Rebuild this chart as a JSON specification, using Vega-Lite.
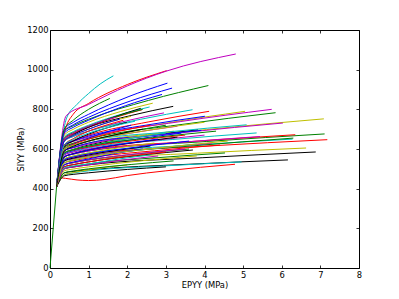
{
"$schema":"https://vega.github.io/schema/vega-lite/v6.json",
"width":309,"height":238,"autosize":"none",
"padding":{"left":50,"top":30,"right":40,"bottom":31},
"background":"white",
"config":{"view":{"stroke":"#000","strokeWidth":1},
"axis":{"domain":false,"grid":false,"tickSize":-3,"tickColor":"#000","tickWidth":0.8,"labelFont":"DejaVu Sans","labelFontSize":8.33,"labelColor":"#000","labelPadding":5,"labelFlush":false,"labelOverlap":false,"titleFont":"DejaVu Sans","titleFontSize":8.33,"titleFontWeight":"normal","titleColor":"#000"},
"axisX":{"titlePadding":2},"axisY":{"titlePadding":1}},
"datasets":{
"elastic":[{"x":0,"y":0},{"x":0.17,"y":410}],
"curves":[
{"s":0,"x":0.17,"y":410},{"s":0,"x":0.37,"y":700},{"s":0,"x":0.6,"y":734},{"s":0,"x":1,"y":775},{"s":0,"x":2.02,"y":863},{"s":0,"x":3.04,"y":932},
{"s":1,"x":0.17,"y":410},{"s":1,"x":0.37,"y":690},{"s":1,"x":0.6,"y":717},{"s":1,"x":1,"y":750},{"s":1,"x":2.55,"y":845},{"s":1,"x":4.1,"y":920},
{"s":2,"x":0.17,"y":410},{"s":2,"x":0.37,"y":680},{"s":2,"x":0.6,"y":775},{"s":2,"x":1,"y":830},{"s":2,"x":2,"y":925},{"s":2,"x":3.02,"y":995},
{"s":3,"x":0.17,"y":410},{"s":3,"x":0.43,"y":756},{"s":3,"x":0.7,"y":825},{"s":3,"x":1,"y":880},{"s":3,"x":1.3,"y":928},{"s":3,"x":1.64,"y":969},
{"s":4,"x":0.17,"y":410},{"s":4,"x":0.42,"y":768},{"s":4,"x":1,"y":825},{"s":4,"x":2,"y":918},{"s":4,"x":3,"y":992},{"s":4,"x":4.81,"y":1079},
{"s":5,"x":0.17,"y":410},{"s":5,"x":0.37,"y":670},{"s":5,"x":0.6,"y":699},{"s":5,"x":1,"y":735},{"s":5,"x":1.83,"y":789},{"s":5,"x":2.66,"y":831},
{"s":6,"x":0.17,"y":410},{"s":6,"x":0.37,"y":650},{"s":6,"x":0.6,"y":677},{"s":6,"x":1,"y":710},{"s":6,"x":2.1,"y":769},{"s":6,"x":3.19,"y":815},
{"s":7,"x":0.17,"y":410},{"s":7,"x":0.37,"y":690},{"s":7,"x":0.6,"y":722},{"s":7,"x":1,"y":760},{"s":7,"x":2.08,"y":842},{"s":7,"x":3.16,"y":907},
{"s":8,"x":0.17,"y":410},{"s":8,"x":0.37,"y":700},{"s":8,"x":0.6,"y":745},{"s":8,"x":1,"y":800},{"s":8,"x":1.28,"y":830},{"s":8,"x":1.55,"y":855},
{"s":9,"x":0.17,"y":410},{"s":9,"x":0.37,"y":650},{"s":9,"x":0.6,"y":677},{"s":9,"x":1,"y":710},{"s":9,"x":1.69,"y":759},{"s":9,"x":2.38,"y":798},
{"s":10,"x":0.17,"y":410},{"s":10,"x":0.37,"y":660},{"s":10,"x":0.6,"y":687},{"s":10,"x":1,"y":720},{"s":10,"x":1.79,"y":772},{"s":10,"x":2.58,"y":812},
{"s":11,"x":0.17,"y":410},{"s":11,"x":0.37,"y":640},{"s":11,"x":0.6,"y":663},{"s":11,"x":1,"y":690},{"s":11,"x":1.98,"y":742},{"s":11,"x":2.95,"y":782},
{"s":12,"x":0.17,"y":410},{"s":12,"x":0.37,"y":610},{"s":12,"x":0.6,"y":630},{"s":12,"x":1,"y":655},{"s":12,"x":3.03,"y":731},{"s":12,"x":5.05,"y":790},
{"s":13,"x":0.17,"y":410},{"s":13,"x":0.37,"y":640},{"s":13,"x":0.6,"y":671},{"s":13,"x":1,"y":710},{"s":13,"x":1.68,"y":763},{"s":13,"x":2.35,"y":805},
{"s":14,"x":0.17,"y":410},{"s":14,"x":0.37,"y":680},{"s":14,"x":0.6,"y":709},{"s":14,"x":1,"y":745},{"s":14,"x":1.95,"y":818},{"s":14,"x":2.9,"y":875},
{"s":15,"x":0.17,"y":410},{"s":15,"x":0.37,"y":610},{"s":15,"x":0.6,"y":628},{"s":15,"x":1,"y":650},{"s":15,"x":3.42,"y":724},{"s":15,"x":5.84,"y":783},
{"s":16,"x":0.17,"y":410},{"s":16,"x":0.37,"y":620},{"s":16,"x":0.6,"y":643},{"s":16,"x":1,"y":670},{"s":16,"x":2.56,"y":737},{"s":16,"x":4.12,"y":790},
{"s":17,"x":0.17,"y":410},{"s":17,"x":0.37,"y":640},{"s":17,"x":0.6,"y":663},{"s":17,"x":1,"y":690},{"s":17,"x":2.35,"y":750},{"s":17,"x":3.69,"y":798},
{"s":18,"x":0.17,"y":410},{"s":18,"x":0.37,"y":620},{"s":18,"x":0.6,"y":638},{"s":18,"x":1,"y":660},{"s":18,"x":3.37,"y":738},{"s":18,"x":5.74,"y":800},
{"s":19,"x":0.17,"y":410},{"s":19,"x":0.37,"y":590},{"s":19,"x":0.6,"y":608},{"s":19,"x":1,"y":630},{"s":19,"x":4.05,"y":698},{"s":19,"x":7.09,"y":752},
{"s":20,"x":0.17,"y":410},{"s":20,"x":0.37,"y":580},{"s":20,"x":0.6,"y":598},{"s":20,"x":1,"y":620},{"s":20,"x":2.42,"y":663},{"s":20,"x":3.83,"y":697},
{"s":21,"x":0.17,"y":410},{"s":21,"x":0.37,"y":620},{"s":21,"x":0.6,"y":640},{"s":21,"x":1,"y":665},{"s":21,"x":2.51,"y":721},{"s":21,"x":4.01,"y":765},
{"s":22,"x":0.17,"y":410},{"s":22,"x":0.37,"y":560},{"s":22,"x":0.6,"y":574},{"s":22,"x":1,"y":590},{"s":22,"x":4.06,"y":638},{"s":22,"x":7.11,"y":676},
{"s":23,"x":0.17,"y":410},{"s":23,"x":0.37,"y":560},{"s":23,"x":0.6,"y":576},{"s":23,"x":1,"y":595},{"s":23,"x":3.68,"y":638},{"s":23,"x":6.35,"y":672},
{"s":24,"x":0.17,"y":410},{"s":24,"x":0.37,"y":570},{"s":24,"x":0.6,"y":586},{"s":24,"x":1,"y":605},{"s":24,"x":3.18,"y":648},{"s":24,"x":5.35,"y":681},
{"s":25,"x":0.17,"y":410},{"s":25,"x":0.37,"y":590},{"s":25,"x":0.6,"y":606},{"s":25,"x":1,"y":625},{"s":25,"x":3.52,"y":684},{"s":25,"x":6.03,"y":731},
{"s":26,"x":0.17,"y":410},{"s":26,"x":0.37,"y":520},{"s":26,"x":0.6,"y":531},{"s":26,"x":1,"y":545},{"s":26,"x":3.82,"y":579},{"s":26,"x":6.63,"y":605},
{"s":27,"x":0.17,"y":410},{"s":27,"x":0.37,"y":500},{"s":27,"x":0.6,"y":509},{"s":27,"x":1,"y":520},{"s":27,"x":3.94,"y":556},{"s":27,"x":6.88,"y":585},
{"s":28,"x":0.17,"y":410},{"s":28,"x":0.37,"y":590},{"s":28,"x":0.6,"y":608},{"s":28,"x":1,"y":630},{"s":28,"x":2.46,"y":666},{"s":28,"x":3.92,"y":694},
{"s":29,"x":0.17,"y":410},{"s":29,"x":0.37,"y":500},{"s":29,"x":0.6,"y":511},{"s":29,"x":1,"y":525},{"s":29,"x":2.77,"y":556},{"s":29,"x":4.53,"y":580},
{"s":30,"x":0.17,"y":410},{"s":30,"x":0.37,"y":545},{"s":30,"x":0.6,"y":559},{"s":30,"x":1,"y":575},{"s":30,"x":4.09,"y":615},{"s":30,"x":7.18,"y":647},
{"s":31,"x":0.17,"y":410},{"s":31,"x":0.37,"y":550},{"s":31,"x":0.6,"y":564},{"s":31,"x":1,"y":580},{"s":31,"x":3.64,"y":619},{"s":31,"x":6.28,"y":650},
{"s":32,"x":0.17,"y":410},{"s":32,"x":0.37,"y":560},{"s":32,"x":0.6,"y":574},{"s":32,"x":1,"y":590},{"s":32,"x":3.22,"y":631},{"s":32,"x":5.44,"y":663},
{"s":33,"x":0.17,"y":410},{"s":33,"x":0.37,"y":640},{"s":33,"x":0.6,"y":668},{"s":33,"x":1,"y":700},{"s":33,"x":1.55,"y":736},{"s":33,"x":2.1,"y":765},
{"s":34,"x":0.17,"y":410},{"s":34,"x":0.37,"y":480},{"s":34,"x":0.6,"y":487},{"s":34,"x":1,"y":495},{"s":34,"x":3.58,"y":523},{"s":34,"x":6.16,"y":545},
{"s":35,"x":0.17,"y":410},{"s":35,"x":0.37,"y":600},{"s":35,"x":0.6,"y":625},{"s":35,"x":1,"y":655},{"s":35,"x":1.55,"y":690},{"s":35,"x":2.1,"y":720},
{"s":36,"x":0.17,"y":410},{"s":36,"x":0.37,"y":655},{"s":36,"x":0.6,"y":682},{"s":36,"x":1,"y":715},{"s":36,"x":1.7,"y":763},{"s":36,"x":2.4,"y":800},
{"s":37,"x":0.17,"y":410},{"s":37,"x":0.25,"y":455},{"s":37,"x":0.4,"y":452},{"s":37,"x":0.7,"y":444},{"s":37,"x":1,"y":441},{"s":37,"x":1.4,"y":446},{"s":37,"x":2,"y":466},{"s":37,"x":3,"y":490},{"s":37,"x":4.79,"y":523},
{"s":38,"x":0.17,"y":410},{"s":38,"x":0.37,"y":470},{"s":38,"x":0.6,"y":479},{"s":38,"x":1,"y":490},{"s":38,"x":2.98,"y":515},{"s":38,"x":4.96,"y":535},
{"s":39,"x":0.17,"y":410},{"s":39,"x":0.37,"y":600},{"s":39,"x":0.6,"y":618},{"s":39,"x":1,"y":640},{"s":39,"x":2.15,"y":682},{"s":39,"x":3.3,"y":715},
{"s":40,"x":0.17,"y":410},{"s":40,"x":0.37,"y":580},{"s":40,"x":0.6,"y":596},{"s":40,"x":1,"y":615},{"s":40,"x":2.1,"y":657},{"s":40,"x":3.2,"y":690},
{"s":41,"x":0.17,"y":410},{"s":41,"x":0.37,"y":610},{"s":41,"x":0.6,"y":640},{"s":41,"x":1,"y":675},{"s":41,"x":1.5,"y":708},{"s":41,"x":2,"y":735},
{"s":42,"x":0.17,"y":410},{"s":42,"x":0.37,"y":575},{"s":42,"x":0.6,"y":591},{"s":42,"x":1,"y":610},{"s":42,"x":2.2,"y":649},{"s":42,"x":3.4,"y":680},
{"s":43,"x":0.17,"y":410},{"s":43,"x":0.37,"y":600},{"s":43,"x":0.6,"y":618},{"s":43,"x":1,"y":640},{"s":43,"x":2,"y":685},{"s":43,"x":3,"y":720},
{"s":44,"x":0.17,"y":410},{"s":44,"x":0.37,"y":600},{"s":44,"x":0.6,"y":623},{"s":44,"x":1,"y":650},{"s":44,"x":1.8,"y":690},{"s":44,"x":2.6,"y":720},
{"s":45,"x":0.17,"y":410},{"s":45,"x":0.37,"y":600},{"s":45,"x":0.6,"y":618},{"s":45,"x":1,"y":640},{"s":45,"x":3.05,"y":686},{"s":45,"x":5.09,"y":722},
{"s":46,"x":0.17,"y":410},{"s":46,"x":0.37,"y":570},{"s":46,"x":0.6,"y":584},{"s":46,"x":1,"y":600},{"s":46,"x":2.5,"y":639},{"s":46,"x":4,"y":670},
{"s":47,"x":0.17,"y":410},{"s":47,"x":0.37,"y":550},{"s":47,"x":0.6,"y":564},{"s":47,"x":1,"y":580},{"s":47,"x":1.85,"y":608},{"s":47,"x":2.7,"y":630},
{"s":48,"x":0.17,"y":410},{"s":48,"x":0.37,"y":560},{"s":48,"x":0.6,"y":576},{"s":48,"x":1,"y":595},{"s":48,"x":2.15,"y":631},{"s":48,"x":3.3,"y":660},
{"s":49,"x":0.17,"y":410},{"s":49,"x":0.37,"y":560},{"s":49,"x":0.6,"y":576},{"s":49,"x":1,"y":595},{"s":49,"x":1.9,"y":626},{"s":49,"x":2.8,"y":650},
{"s":50,"x":0.17,"y":410},{"s":50,"x":0.37,"y":540},{"s":50,"x":0.6,"y":551},{"s":50,"x":1,"y":565},{"s":50,"x":3.65,"y":615},{"s":50,"x":6.3,"y":655},
{"s":51,"x":0.17,"y":410},{"s":51,"x":0.37,"y":580},{"s":51,"x":0.6,"y":594},{"s":51,"x":1,"y":610},{"s":51,"x":2.25,"y":644},{"s":51,"x":3.5,"y":670},
{"s":52,"x":0.17,"y":410},{"s":52,"x":0.37,"y":580},{"s":52,"x":0.6,"y":596},{"s":52,"x":1,"y":615},{"s":52,"x":2,"y":651},{"s":52,"x":3,"y":680},
{"s":53,"x":0.17,"y":410},{"s":53,"x":0.37,"y":540},{"s":53,"x":0.6,"y":551},{"s":53,"x":1,"y":565},{"s":53,"x":2.6,"y":601},{"s":53,"x":4.2,"y":630},
{"s":54,"x":0.17,"y":410},{"s":54,"x":0.37,"y":490},{"s":54,"x":0.6,"y":499},{"s":54,"x":1,"y":510},{"s":54,"x":2.4,"y":541},{"s":54,"x":3.8,"y":565},
{"s":55,"x":0.17,"y":410},{"s":55,"x":0.37,"y":540},{"s":55,"x":0.6,"y":554},{"s":55,"x":1,"y":570},{"s":55,"x":1.8,"y":595},{"s":55,"x":2.6,"y":615},
{"s":56,"x":0.17,"y":410},{"s":56,"x":0.37,"y":545},{"s":56,"x":0.6,"y":559},{"s":56,"x":1,"y":575},{"s":56,"x":2.3,"y":611},{"s":56,"x":3.6,"y":640},
{"s":57,"x":0.17,"y":410},{"s":57,"x":0.37,"y":520},{"s":57,"x":0.6,"y":531},{"s":57,"x":1,"y":545},{"s":57,"x":2.3,"y":576},{"s":57,"x":3.6,"y":600},
{"s":58,"x":0.17,"y":410},{"s":58,"x":0.37,"y":530},{"s":58,"x":0.6,"y":541},{"s":58,"x":1,"y":555},{"s":58,"x":2.7,"y":591},{"s":58,"x":4.4,"y":620},
{"s":59,"x":0.17,"y":410},{"s":59,"x":0.37,"y":530},{"s":59,"x":0.6,"y":544},{"s":59,"x":1,"y":560},{"s":59,"x":2.4,"y":596},{"s":59,"x":3.8,"y":625},
{"s":60,"x":0.17,"y":410},{"s":60,"x":0.37,"y":520},{"s":60,"x":0.6,"y":531},{"s":60,"x":1,"y":545},{"s":60,"x":2.25,"y":576},{"s":60,"x":3.5,"y":600},
{"s":61,"x":0.17,"y":410},{"s":61,"x":0.37,"y":470},{"s":61,"x":0.6,"y":481},{"s":61,"x":1,"y":495},{"s":61,"x":1.5,"y":509},{"s":61,"x":2,"y":520},
{"s":62,"x":0.17,"y":410},{"s":62,"x":0.37,"y":510},{"s":62,"x":0.6,"y":521},{"s":62,"x":1,"y":535},{"s":62,"x":2.35,"y":569},{"s":62,"x":3.7,"y":595},
{"s":63,"x":0.17,"y":410},{"s":63,"x":0.37,"y":520},{"s":63,"x":0.6,"y":534},{"s":63,"x":1,"y":550},{"s":63,"x":1.7,"y":578},{"s":63,"x":2.4,"y":600},
{"s":64,"x":0.17,"y":410},{"s":64,"x":0.37,"y":480},{"s":64,"x":0.6,"y":489},{"s":64,"x":1,"y":500},{"s":64,"x":2.1,"y":522},{"s":64,"x":3.2,"y":540},
{"s":65,"x":0.17,"y":410},{"s":65,"x":0.37,"y":510},{"s":65,"x":0.6,"y":521},{"s":65,"x":1,"y":535},{"s":65,"x":2,"y":563},{"s":65,"x":3,"y":585},
{"s":66,"x":0.17,"y":410},{"s":66,"x":0.37,"y":505},{"s":66,"x":0.6,"y":514},{"s":66,"x":1,"y":525},{"s":66,"x":1.8,"y":550},{"s":66,"x":2.6,"y":570},
{"s":67,"x":0.17,"y":410},{"s":67,"x":0.37,"y":650},{"s":67,"x":0.6,"y":680},{"s":67,"x":1,"y":715},{"s":67,"x":1.35,"y":740},{"s":67,"x":1.7,"y":760},
{"s":68,"x":0.17,"y":410},{"s":68,"x":0.37,"y":600},{"s":68,"x":0.6,"y":618},{"s":68,"x":1,"y":640},{"s":68,"x":2.5,"y":693},{"s":68,"x":4,"y":735},
{"s":69,"x":0.17,"y":410},{"s":69,"x":0.37,"y":465},{"s":69,"x":0.6,"y":472},{"s":69,"x":1,"y":480},{"s":69,"x":2,"y":497},{"s":69,"x":3,"y":510},
{"s":70,"x":0.17,"y":410},{"s":70,"x":0.37,"y":640},{"s":70,"x":0.6,"y":668},{"s":70,"x":1,"y":700},{"s":70,"x":1.4,"y":728},{"s":70,"x":1.8,"y":750},
{"s":71,"x":0.17,"y":410},{"s":71,"x":0.37,"y":580},{"s":71,"x":0.6,"y":596},{"s":71,"x":1,"y":615},{"s":71,"x":2.65,"y":657},{"s":71,"x":4.3,"y":690},
{"s":72,"x":0.17,"y":410},{"s":72,"x":0.37,"y":620},{"s":72,"x":0.6,"y":652},{"s":72,"x":1,"y":690},{"s":72,"x":1.45,"y":720},{"s":72,"x":1.9,"y":745},
{"s":73,"x":0.17,"y":410},{"s":73,"x":0.37,"y":620},{"s":73,"x":0.6,"y":648},{"s":73,"x":1,"y":680},{"s":73,"x":1.6,"y":713},{"s":73,"x":2.2,"y":740},
{"s":74,"x":0.17,"y":410},{"s":74,"x":0.37,"y":500},{"s":74,"x":0.6,"y":509},{"s":74,"x":1,"y":520},{"s":74,"x":1.9,"y":545},{"s":74,"x":2.8,"y":565},
{"s":75,"x":0.17,"y":410},{"s":75,"x":0.37,"y":530},{"s":75,"x":0.6,"y":544},{"s":75,"x":1,"y":560},{"s":75,"x":2.8,"y":605},{"s":75,"x":4.6,"y":640},
{"s":76,"x":0.17,"y":410},{"s":76,"x":0.37,"y":590},{"s":76,"x":0.6,"y":613},{"s":76,"x":1,"y":640},{"s":76,"x":1.7,"y":672},{"s":76,"x":2.4,"y":700}
]},
"layer":[
{"data":{"name":"curves"},
"mark":{"type":"line","interpolate":"monotone","strokeWidth":1,"clip":true},
"encoding":{
"x":{"field":"x","type":"quantitative","scale":{"domain":[0,8],"nice":false,"zero":false},"axis":{"orient":"bottom","values":[0,1,2,3,4,5,6,7,8],"title":"EPYY (MPa)"}},
"y":{"field":"y","type":"quantitative","scale":{"domain":[0,1200],"nice":false,"zero":false},"axis":{"orient":"left","values":[0,200,400,600,800,1000,1200],"format":"d","title":"SIYY (MPa)"}},
"color":{"field":"s","type":"nominal","scale":{"range":["#0000ff","#008000","#ff0000","#00bfbf","#bf00bf","#bfbf00","#000000"]},"legend":null}}},
{"data":{"name":"elastic"},
"mark":{"type":"line","color":"#008000","strokeWidth":1},
"encoding":{
"x":{"field":"x","type":"quantitative","axis":{"orient":"top","values":[0,1,2,3,4,5,6,7,8],"labels":false,"title":null}},
"y":{"field":"y","type":"quantitative","axis":{"orient":"right","values":[0,200,400,600,800,1000,1200],"labels":false,"title":null}}}}
],
"resolve":{"axis":{"x":"independent","y":"independent"}}
}
